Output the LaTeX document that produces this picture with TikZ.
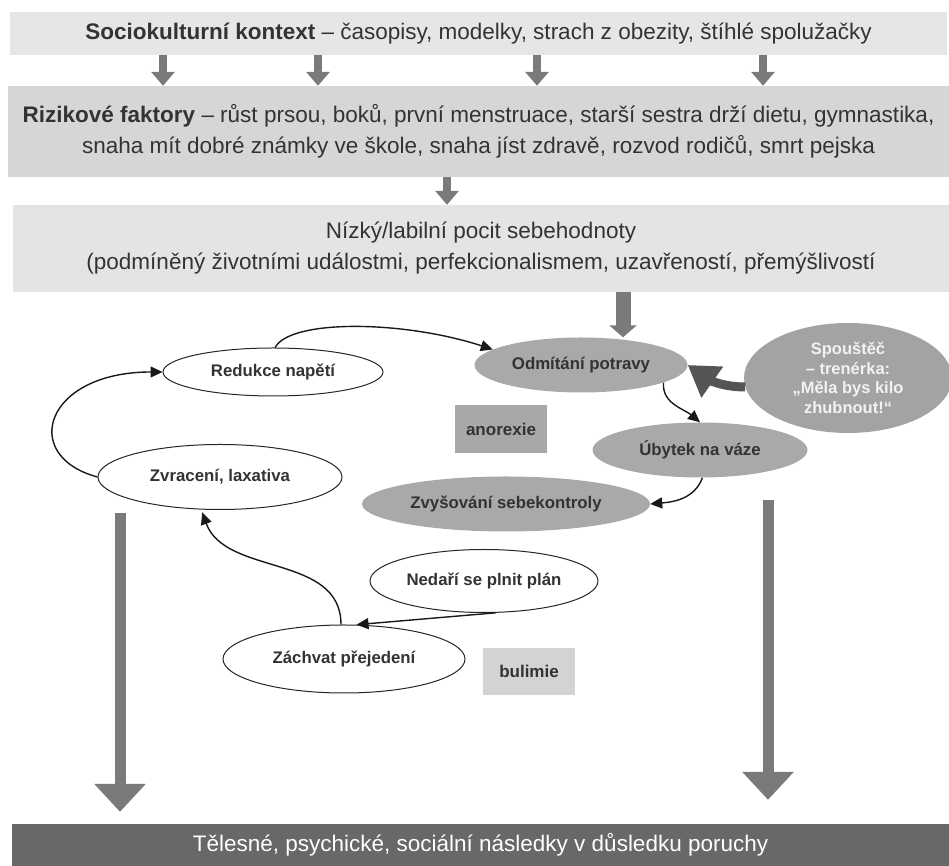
\documentclass[tikz,border=0pt]{standalone}
\usepackage{fontspec}
\setmainfont{Liberation Sans}
\usetikzlibrary{arrows.meta,shapes.geometric}

\definecolor{bandone}{HTML}{E6E6E6}
\definecolor{bandtwo}{HTML}{D6D6D6}
\definecolor{bandthree}{HTML}{E4E4E4}
\definecolor{bandfour}{HTML}{686868}
\definecolor{arrowgrey}{HTML}{7A7A7A}
\definecolor{stategrey}{HTML}{A9A9A9}
\definecolor{triggergrey}{HTML}{A3A3A3}
\definecolor{triggerdark}{HTML}{555555}
\definecolor{anorexgrey}{HTML}{A8A8A8}
\definecolor{bulimgrey}{HTML}{D3D3D3}
\definecolor{txtgrey}{HTML}{333333}

\begin{document}
\begin{tikzpicture}[x=1pt,y=1pt,>={Triangle[width=11pt,length=12pt]}]
    \useasboundingbox (0,0) rectangle (949,866);
    \tikzset{band/.style={rectangle,inner sep=0pt,align=center,text=txtgrey,font=\fontsize{22.5}{31}\selectfont}}
    \tikzset{greystate/.style={ellipse,fill=stategrey,inner sep=0pt,text=txtgrey,font=\bfseries\fontsize{16.8}{20}\selectfont}}
    \tikzset{whitestate/.style={ellipse,draw=black!85,line width=1pt,fill=white,inner sep=0pt,text=txtgrey,font=\bfseries\fontsize{16.8}{20}\selectfont}}
    \tikzset{tag/.style={rectangle,inner sep=0pt,text=txtgrey,font=\bfseries\fontsize{17}{20}\selectfont}}

    \node[band,fill=bandone,minimum width=937pt,minimum height=43pt] (kontext) at (478.5,832.5) {\textbf{Sociokulturní kontext} – časopisy, modelky, strach z obezity, štíhlé spolužačky};
    \node[band,fill=bandtwo,minimum width=941pt,minimum height=91pt] (rizika) at (478.5,734.5) {\textbf{Rizikové faktory} – růst prsou, boků, první menstruace, starší sestra drží dietu, gymnastika,\\snaha mít dobré známky ve škole, snaha jíst zdravě, rozvod rodičů, smrt pejska};
    \node[band,fill=bandthree,minimum width=936pt,minimum height=87pt] (sebehodnota) at (481,617.5) {Nízký/labilní pocit sebehodnoty\\(podmíněný životními událostmi, perfekcionalismem, uzavřeností, přemýšlivostí};
    \node[band,fill=bandfour,text=white,minimum width=937pt,minimum height=42pt] (nasledky) at (480.5,21) {Tělesné, psychické, sociální následky v důsledku poruchy};

    \node[greystate,minimum width=213pt,minimum height=55pt] (odmitani) at (581,501) {Odmítání potravy};
    \node[greystate,fill=triggergrey,text=white!95!black,align=center,font=\bfseries\fontsize{16.5}{19.5}\selectfont,minimum width=208pt,minimum height=110pt] (spoustec) at (848,488) {Spouštěč\\– trenérka:\\„Měla bys kilo\\zhubnout!“};
    \node[whitestate,minimum width=220pt,minimum height=48pt] (redukce) at (273,494) {Redukce napětí};
    \node[whitestate,minimum width=244pt,minimum height=65pt] (zvraceni) at (220,389) {Zvracení, laxativa};
    \node[greystate,minimum width=215pt,minimum height=55pt] (ubytek) at (700,416) {Úbytek na váze};
    \node[greystate,minimum width=288pt,minimum height=55pt] (sebekontrola) at (506,362) {Zvyšování sebekontroly};
    \node[whitestate,minimum width=228pt,minimum height=63pt] (nedari) at (484,285) {Nedaří se plnit plán};
    \node[whitestate,minimum width=242pt,minimum height=68pt] (zachvat) at (344,207) {Záchvat přejedení};
    \node[tag,fill=anorexgrey,minimum width=92pt,minimum height=48pt] (anorexie) at (501,437) {anorexie};
    \node[tag,fill=bulimgrey,minimum width=92pt,minimum height=47pt] (bulimie) at (529,194.5) {bulimie};

    \coordinate (levystart) at (120,353);
    \coordinate (pravystart) at (768,366);

    \tikzset{bandarrow/.style={-{Triangle[width=23pt,length=14pt]},line width=8pt,draw=arrowgrey}}
    \tikzset{bigarrow/.style={-{Triangle[width=50pt,length=28pt]},line width=11pt,draw=arrowgrey}}
    \tikzset{cyclearrow/.style={->,line width=1.4pt,draw=black!90}}
    \tikzset{triggerarrow/.style={-{Triangle[width=36pt,length=30pt]},line width=9pt,draw=triggerdark}}
    \foreach \x in {163,318,537,763}
        \path (kontext.south -| \x,0) edge [bandarrow] (rizika.north -| \x,0);
    \path (rizika.south -| 447,0) edge [bandarrow] (sebehodnota.north -| 447,0);
    \path (sebehodnota.south -| 623,0) edge [bandarrow,line width=15pt,-{Triangle[width=27pt,length=12pt]}] (odmitani.north -| 623,0);
    \path (redukce.85) edge [cyclearrow,out=62,in=162,out distance=32pt,in distance=95pt] (odmitani.170);
    \path (odmitani.-12) edge [cyclearrow,out=-95,in=140] (ubytek.north);
    \path (ubytek.-85) edge [cyclearrow,out=-110,in=5] (sebekontrola.east);
    \path (zvraceni.west) edge [cyclearrow,out=165,in=180,out distance=81pt,in distance=118pt] (redukce.west);
    \path (zachvat.95) edge [cyclearrow,out=90,in=-70,shorten >=3pt] (zvraceni.-120);
    \path (nedari.-70) edge [cyclearrow] (zachvat.70);
    \path (spoustec.185) edge [triggerarrow,out=180,in=-35] (odmitani.east);
    \path (levystart) edge [bigarrow,shorten >=12pt] (levystart |- nasledky.north);
    \path (pravystart) edge [bigarrow,shorten >=24pt] (pravystart |- nasledky.north);
\end{tikzpicture}
\end{document}
